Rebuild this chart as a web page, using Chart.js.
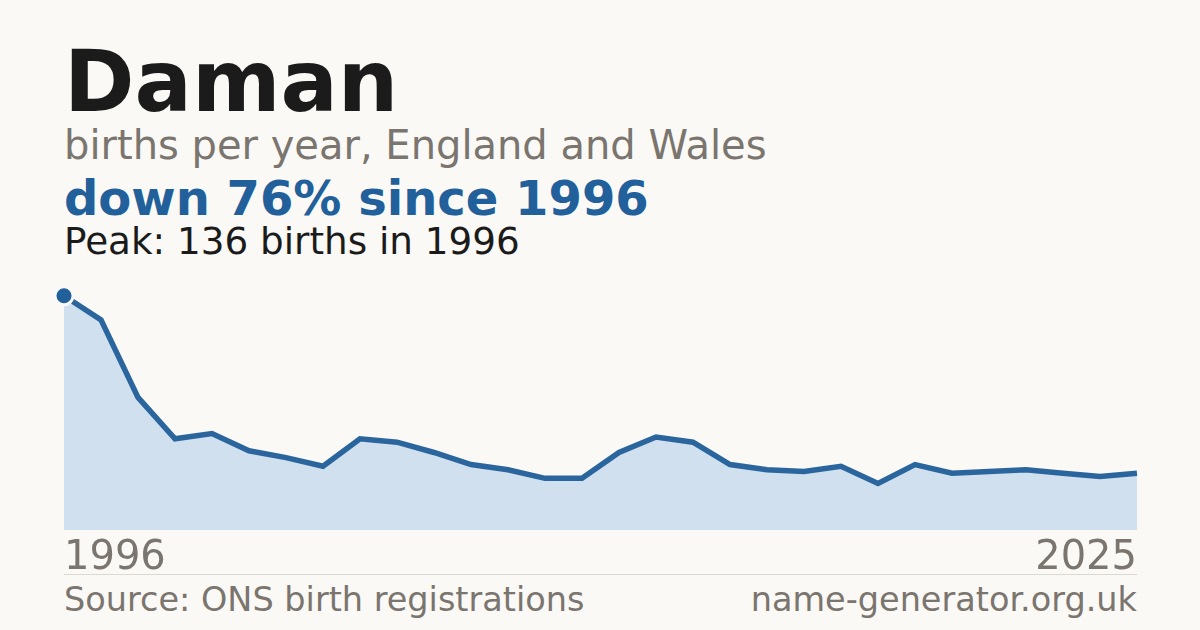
<!DOCTYPE html>
<html>
<head>
<meta charset="utf-8">
<script src="https://cdn.jsdelivr.net/npm/chart.js@4.4.1/dist/chart.umd.min.js"></script>
<style>
  html, body { margin: 0; padding: 0; }
  body {
    width: 1200px; height: 630px; position: relative; overflow: hidden;
    background: #faf9f5; font-family: "DejaVu Sans", sans-serif;
  }
  .txt { position: absolute; left: 64px; white-space: nowrap; }
  #title { top: 39px; font-size: 85px; font-weight: bold; color: #1b1b1b; line-height: 1; }
  #subtitle { top: 121px; font-size: 40px; color: #7a756e; line-height: 1.2; }
  #headline { top: 170px; font-size: 48px; font-weight: bold; color: #21609a; line-height: 1.2; }
  #peak { top: 219px; font-size: 37.3px; color: #1b1b1b; line-height: 1.2; }
  #chartBox { position: absolute; left: 44px; top: 270px; width: 1113px; height: 310px; }
  #rule { position: absolute; left: 64px; top: 574px; width: 1073px; height: 1px; background: #dcd9d2; }
  .foot { position: absolute; top: 580px; font-size: 33.5px; color: #7a756e; line-height: 1.2; white-space: nowrap; }
  #source { left: 64px; }
  #site { right: 63px; }
</style>
</head>
<body>
<div class="txt" id="title">Daman</div>
<div class="txt" id="subtitle">births per year, England and Wales</div>
<div class="txt" id="headline">down 76% since 1996</div>
<div class="txt" id="peak">Peak: 136 births in 1996</div>
<div id="chartBox"><canvas id="chart"></canvas></div>
<div id="rule"></div>
<div class="foot" id="source">Source: ONS birth registrations</div>
<div class="foot" id="site">name-generator.org.uk</div>
<script>
const years = [];
for (let y = 1996; y <= 2025; y++) years.push(String(y));
const births = [136, 122, 77, 53, 56, 46, 42, 37, 53, 51, 45, 38, 35, 30, 30,
                45, 54, 51, 38, 35, 34, 37, 27, 38, 33, 34, 35, 33, 31, 33];

const lineColor = "#2a669d";
const fillColor = "#d0e0ef";
const bg = "#faf9f5";

new Chart(document.getElementById("chart"), {
  type: "line",
  data: {
    labels: years,
    datasets: [{
      data: births,
      borderColor: lineColor,
      borderWidth: 5.5,
      backgroundColor: fillColor,
      fill: "origin",
      tension: 0,
      clip: false,
      pointRadius: births.map((v, i) => (i === 0 ? 9 : 0)),
      pointBackgroundColor: "#21609a",
      pointBorderColor: bg,
      pointBorderWidth: 3,
    }],
  },
  options: {
    responsive: true,
    maintainAspectRatio: false,
    animation: false,
    layout: { padding: { left: 20, right: 20, top: 0, bottom: 0 } },
    plugins: { legend: { display: false }, tooltip: { enabled: false } },
    scales: {
      x: {
        offset: false,
        grid: { display: false, drawTicks: false },
        border: { display: false },
        afterFit: (scale) => { scale.height = 50; },
        ticks: {
          autoSkip: false,
          maxRotation: 0,
          align: "inner",
          padding: 5,
          color: "#7a756e",
          font: { family: "DejaVu Sans", size: 40 },
          callback: function (val, i) {
            return i === 0 || i === years.length - 1 ? years[i] : "";
          },
        },
      },
      y: { display: false, min: 0, max: 144 },
    },
  },
});
</script>
</body>
</html>
